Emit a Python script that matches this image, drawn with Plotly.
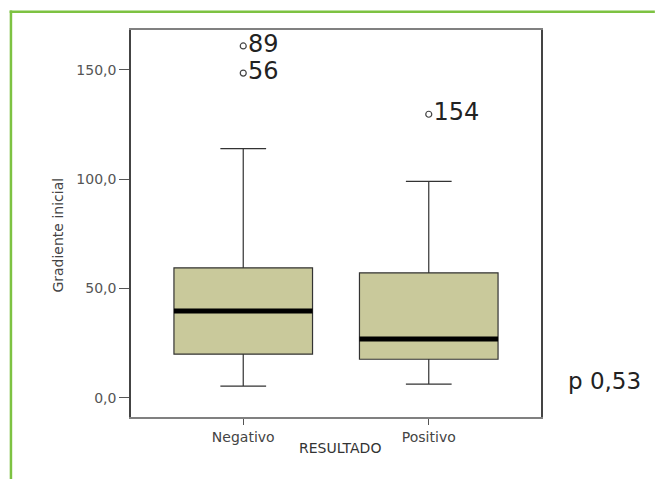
import plotly.graph_objects as go

categories = ["Negativo", "Positivo"]
lower_whisker = [5.4, 6.3]
q1_vals = [20.0, 17.7]
median_vals = [39.8, 26.9]
q3_vals = [59.5, 57.2]
upper_whisker = [114.0, 99.0]

outlier_cat = ["Negativo", "Negativo", "Positivo"]
outlier_vals = [160.9, 148.5, 129.7]
outlier_ids = ["89", "56", "154"]

y_ticks = [0, 50, 100, 150]
y_tick_labels = ["0,0", "50,0", "100,0", "150,0"]

p_text = "p 0,53"

FONT = "DejaVu Sans"
BOX_W = 0.747

L, R, T, B = 130.5, 114, 30, 62
W, H = 655, 479
PW, PH = W - L - R, H - T - B

def px_x(px):
    return (px - L) / PW

def px_y(py):
    return 1 - (py - T) / PH

fig = go.Figure()
for i, c in enumerate(categories):
    fig.add_trace(go.Box(
        x=[c], q1=[q1_vals[i]], median=[median_vals[i]], q3=[q3_vals[i]],
        lowerfence=[lower_whisker[i]], upperfence=[upper_whisker[i]],
        boxpoints=False, width=BOX_W, whiskerwidth=0.33,
        fillcolor="#C9C99B", line=dict(color="#333333", width=1.2),
        showlegend=False, hoverinfo="skip",
    ))

fig.add_trace(go.Scatter(
    x=outlier_cat, y=outlier_vals, mode="markers+text",
    text=outlier_ids, textposition="middle right",
    textfont=dict(family=FONT, size=24, color="#222222"),
    marker=dict(symbol="circle-open", size=6, color="#444444", line=dict(width=1.2)),
    showlegend=False, hoverinfo="skip",
))

shapes = []
for i, m in enumerate(median_vals):
    shapes.append(dict(type="line", xref="x", yref="y",
                       x0=i - BOX_W / 2, x1=i + BOX_W / 2, y0=m, y1=m,
                       line=dict(color="#000000", width=5)))
green = "#7DC242"
shapes.append(dict(type="line", xref="paper", yref="paper",
                   x0=px_x(9), x1=px_x(655), y0=px_y(11.7), y1=px_y(11.7),
                   line=dict(color=green, width=2.5)))
shapes.append(dict(type="line", xref="paper", yref="paper",
                   x0=px_x(10.3), x1=px_x(10.3), y0=px_y(10.5), y1=px_y(479),
                   line=dict(color=green, width=2.5)))

annotations = [
    dict(text="Gradiente inicial", textangle=-90, xref="paper", yref="paper",
         x=px_x(57), y=px_y(235), xanchor="center", yanchor="middle", showarrow=False,
         font=dict(family=FONT, size=14, color="#444444")),
    dict(text="RESULTADO", xref="paper", yref="paper",
         x=px_x(340), y=px_y(448), xanchor="center", yanchor="middle", showarrow=False,
         font=dict(family=FONT, size=14, color="#333333")),
    dict(text=p_text, xref="paper", yref="paper", xanchor="left", yanchor="middle",
         x=px_x(566), y=px_y(381), showarrow=False,
         font=dict(family=FONT, size=23, color="#222222")),
]

fig.update_layout(
    width=W, height=H,
    margin=dict(l=L, r=R, t=T, b=B),
    paper_bgcolor="white", plot_bgcolor="white",
    shapes=shapes, annotations=annotations,
    font=dict(family=FONT),
)
fig.update_xaxes(
    range=[-0.605, 1.605], showgrid=False, zeroline=False,
    showline=True, mirror=True, linecolor="#808080", linewidth=2,
    ticks="outside", ticklen=6, tickcolor="#555555",
    tickfont=dict(family=FONT, size=14, color="#444444"),
)
fig.update_yaxes(
    range=[-8.7, 168.2], showgrid=False, zeroline=False,
    showline=True, mirror=True, linecolor="#444444", linewidth=1.5,
    ticks="outside", ticklen=10, tickcolor="#555555",
    tickvals=y_ticks, ticktext=y_tick_labels,
    tickfont=dict(family=FONT, size=14, color="#555555"),
)

fig.write_html("out.html", config={"displayModeBar": False},
               post_script="document.body.style.margin='0';document.body.style.overflow='hidden';")
